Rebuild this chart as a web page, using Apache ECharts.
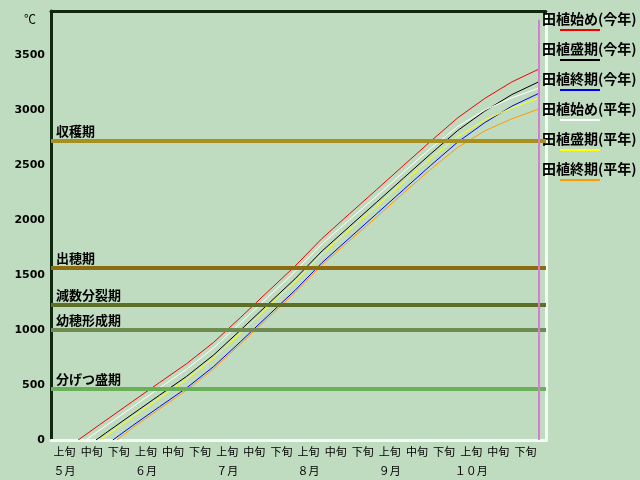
<!DOCTYPE html>
<html>
<head>
<meta charset="utf-8">
<script src="https://cdn.jsdelivr.net/npm/echarts@6/dist/echarts.min.js"></script>
<style>
html,body{margin:0;padding:0;background:#C0DCC0;}
#c{width:640px;height:480px;}
</style>
</head>
<body>
<div id="c"></div>
<script>
// ---- data ----
const dekads = ['上旬', '中旬', '下旬'];
const months = ['５月', '６月', '７月', '８月', '９月', '１０月'];
// dekad boundary positions (1 unit = 1 dekad, 0 = May 1st)
const boundaries = [2, 3, 4, 5, 6, 7, 8, 9, 10, 11, 12, 13, 14, 15, 16, 17, 18];
const seriesNames = ['田植始め(今年)', '田植盛期(今年)', '田植終期(今年)', '田植始め(平年)', '田植盛期(平年)', '田植終期(平年)'];
const startPos = [1.0, 1.66, 2.28, 1.28, 1.8, 2.43];
const startThis = [175, 349, 522, 693, 888, 1116, 1349, 1580, 1833, 2054, 2274, 2495, 2715, 2928, 3105, 3255, 3372];
const peakThis = [60, 234, 407, 578, 773, 1001, 1234, 1465, 1718, 1939, 2159, 2380, 2600, 2813, 2990, 3140, 3257];
const endThis = [null, 129, 302, 473, 668, 896, 1129, 1360, 1613, 1834, 2054, 2275, 2495, 2708, 2885, 3035, 3152];
const startNormal = [125, 299, 472, 643, 838, 1066, 1299, 1530, 1783, 2000, 2215, 2435, 2650, 2850, 3000, 3110, 3200];
const peakNormal = [34, 208, 381, 552, 747, 975, 1208, 1439, 1692, 1909, 2124, 2344, 2559, 2759, 2909, 3019, 3109];
const endNormal = [null, 109, 282, 453, 648, 876, 1109, 1340, 1593, 1810, 2025, 2245, 2460, 2660, 2810, 2920, 3010];
const seriesValues = [startThis, peakThis, endThis, startNormal, peakNormal, endNormal];
const bandNames = ['収穫期', '出穂期', '減数分裂期', '幼穂形成期', '分げつ盛期'];
const bandValues = [2720, 1565, 1230, 1000, 470];
const markerPos = 18;
const markerTop = 3820;

// ---- styles ----
const lineColors = ['#ee0000', '#000000', '#0000ee', '#ffffff', '#ffff00', '#ff9900'];
const bandColors = ['#A89020', '#8C6C10', '#5E7026', '#6E8C52', '#6AB058'];
const JP = "'Noto Sans CJK JP', sans-serif";

const chart = echarts.init(document.getElementById('c'));

const rich = {
  t: { fontFamily: JP, fontSize: 14, fontWeight: 'bold', color: '#000', lineHeight: 16 },
  s: { width: 18, fontSize: 1, lineHeight: 6 }
};
lineColors.forEach((c, i) => {
  rich['l' + i] = { width: 40, height: 2, lineHeight: 6, fontSize: 1, backgroundColor: c };
});

const lineSeries = seriesNames.map((name, i) => {
  const data = [[startPos[i], 0]];
  boundaries.forEach((b, j) => {
    const v = seriesValues[i][j];
    if (v !== null && b > startPos[i]) data.push([b, v]);
  });
  return {
    name: name,
    type: 'line',
    data: data,
    showSymbol: false,
    symbol: 'none',
    lineStyle: { color: lineColors[i], width: 1 },
    itemStyle: { color: lineColors[i] },
    z: 4,
    animation: false
  };
});

const labelPositions = [];
for (let i = 0; i < 18; i++) labelPositions.push(i + 0.5);

const option = {
  backgroundColor: '#C0DCC0',
  animation: false,
  title: {
    text: '℃', left: 24, top: 13, padding: 0,
    textStyle: { fontFamily: JP, fontSize: 12, fontWeight: 'normal', color: '#000' }
  },
  legend: {
    orient: 'vertical', left: 537, top: 12, padding: 0, itemGap: 11,
    itemWidth: 0, itemHeight: 0, icon: 'rect', selectedMode: false,
    data: seriesNames,
    formatter: function (name) {
      const i = seriesNames.indexOf(name);
      return '{t|' + name + '}\n{s| }{l' + i + '| }';
    },
    textStyle: { rich: rich }
  },
  grid: { left: 51, right: 94, top: 11, bottom: 40 },
  xAxis: [
    {
      type: 'value', min: 0, max: 18.26, position: 'bottom',
      axisLine: { show: true, onZero: false, lineStyle: { color: '#F4FFF4', width: 3 } },
      axisTick: { show: false },
      splitLine: { show: false },
      axisLabel: {
        customValues: labelPositions,
        margin: 2,
        fontFamily: JP, fontSize: 11, color: '#000', lineHeight: 19,
        formatter: function (v) {
          const i = Math.round(v - 0.5);
          const d = dekads[i % 3];
          return i % 3 === 0 ? d + '\n' + months[i / 3] : d;
        }
      }
    },
    {
      type: 'value', min: 0, max: 18.26, position: 'top',
      axisLine: { show: true, onZero: false, lineStyle: { color: '#102810', width: 3 } },
      axisTick: { show: false }, axisLabel: { show: false }, splitLine: { show: false }
    }
  ],
  yAxis: [
    {
      type: 'value', min: 0, max: 3900, interval: 500, position: 'left',
      axisLine: { show: true, onZero: false, lineStyle: { color: '#102810', width: 3 } },
      axisTick: { show: false }, splitLine: { show: false },
      axisLabel: {
        showMaxLabel: false, margin: 6,
        formatter: function (v) { return String(v); },
        fontFamily: 'DejaVu Sans', fontWeight: 'bold', fontSize: 11, color: '#000'
      }
    },
    {
      type: 'value', min: 0, max: 3900, interval: 500, position: 'right',
      axisLine: { show: true, onZero: false, lineStyle: { color: '#F4FFF4', width: 3 } },
      axisTick: { show: false }, splitLine: { show: false }, axisLabel: { show: false }
    }
  ],
  series: [
    {
      name: 'bands', type: 'line', data: [], z: 2, silent: true,
      markLine: {
        symbol: ['none', 'none'], silent: true, animation: false,
        data: bandNames.map((n, i) => ({
          name: n, yAxis: bandValues[i],
          lineStyle: { color: bandColors[i], width: 4, type: 'solid' },
          label: {
            show: true, position: 'insideStartTop', formatter: '{b}',
            fontFamily: JP, fontWeight: 'bold', fontSize: 13, color: '#000', distance: [5, 3]
          }
        }))
      }
    },
    ...lineSeries,
    {
      name: 'marker', type: 'line', data: [], z: 5, silent: true,
      markLine: {
        symbol: ['none', 'none'], silent: true, animation: false,
        label: { show: false },
        lineStyle: { color: '#D77BD7', width: 2, type: 'solid' },
        data: [[{ coord: [markerPos, markerTop] }, { coord: [markerPos, 0] }]]
      }
    }
  ]
};
chart.setOption(option);
</script>
</body>
</html>
